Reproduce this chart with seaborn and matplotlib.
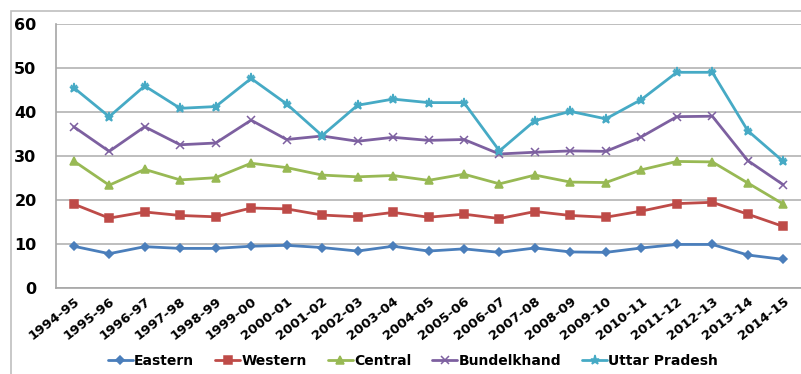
import numpy as np
import pandas as pd
import matplotlib
matplotlib.use("Agg")
import matplotlib.pyplot as plt
import matplotlib.transforms as mtransforms
import seaborn as sns
from matplotlib.patches import Rectangle
from matplotlib.ticker import FixedLocator

# Data
years = ["1994-95", "1995-96", "1996-97", "1997-98", "1998-99", "1999-00", "2000-01",
         "2001-02", "2002-03", "2003-04", "2004-05", "2005-06", "2006-07", "2007-08",
         "2008-09", "2009-10", "2010-11", "2011-12", "2012-13", "2013-14", "2014-15"]
eastern = [9.4, 7.7, 9.3, 8.9, 8.9, 9.4, 9.6, 9.1, 8.3, 9.4, 8.3, 8.8, 8.0, 9.0,
           8.1, 8.0, 9.0, 9.8, 9.8, 7.4, 6.4]
western = [19.0, 15.8, 17.2, 16.4, 16.1, 18.1, 17.9, 16.5, 16.1, 17.1, 16.0, 16.7,
           15.7, 17.3, 16.4, 16.0, 17.4, 19.1, 19.4, 16.7, 13.9]
central = [28.8, 23.3, 26.9, 24.5, 25.0, 28.3, 27.3, 25.6, 25.2, 25.5, 24.4, 25.8,
           23.6, 25.6, 24.0, 23.9, 26.8, 28.7, 28.6, 23.8, 19.0]
bundelkhand = [36.6, 31.0, 36.6, 32.5, 32.9, 38.1, 33.7, 34.5, 33.3, 34.2, 33.5, 33.7,
               30.4, 30.8, 31.1, 31.0, 34.3, 38.9, 39.0, 28.9, 23.4]
uttar_pradesh = [45.5, 38.9, 45.9, 40.8, 41.2, 47.6, 41.8, 34.6, 41.5, 42.9, 42.1, 42.1,
                 31.1, 38.0, 40.1, 38.4, 42.8, 49.0, 49.0, 35.7, 28.7]

series = {
    "Eastern": (eastern, "#4A7EBB", "D", 4.5),
    "Western": (western, "#BE4B48", "s", 6),
    "Central": (central, "#98B954", "^", 6),
    "Bundelkhand": (bundelkhand, "#7D60A0", "x", 6),
    "Uttar Pradesh": (uttar_pradesh, "#46AAC5", "*", 6.5),
}

sns.set_style("white")
plt.rcParams["font.family"] = ["DejaVu Sans"]
plt.rcParams["text.color"] = "black"

fig = plt.figure(figsize=(8.01, 3.74), dpi=100)
ax = fig.add_axes([56 / 801, 1 - 287.5 / 374, 1 - 56 / 801, (287.5 - 24) / 374])

# Outer chart border
fig.add_artist(Rectangle((11 / 801, -0.05), 1.2, 1 - 11 / 374 + 0.05,
                         transform=fig.transFigure, fill=False,
                         edgecolor="#BFBFBF", linewidth=1.2))

x = np.arange(len(years))
for name, (vals, col, mk, ms) in series.items():
    sns.lineplot(x=x, y=vals, ax=ax, color=col, marker=mk, markersize=ms,
                 markeredgecolor=col, markeredgewidth=1.1, linewidth=2.0,
                 label=name, legend=False)
    if mk == "*":
        ax.plot(x, vals, linestyle="none", marker="x", markersize=5,
                color=col, markeredgewidth=1.1)

ax.set_xlim(-0.5, len(years) - 0.5)
ax.set_ylim(0, 60)
ax.set_yticks(range(0, 61, 10))
ax.yaxis.grid(True, color="#B3B3B3", linewidth=1.2)
ax.set_xticks(x)
ax.set_xticklabels(years, rotation=38, ha="right", rotation_mode="anchor",
                   fontsize=9.5, fontweight="bold", color="black")
# shift labels slightly right so their ends sit just past the category
offset = mtransforms.ScaledTranslation(5 / 100, 0, fig.dpi_scale_trans)
for lbl in ax.get_xticklabels():
    lbl.set_transform(lbl.get_transform() + offset)
ax.xaxis.set_minor_locator(FixedLocator(np.arange(-0.5, len(years), 1)))
ax.tick_params(axis="x", which="major", length=0, pad=5)
ax.tick_params(axis="x", which="minor", length=5, color="#A6A6A6", width=1)
ax.tick_params(axis="y", length=5, color="#A6A6A6", width=1, labelsize=11.5, pad=9,
               labelcolor="black")
for lbl in ax.get_yticklabels():
    lbl.set_fontweight("bold")
for side in ["top", "right"]:
    ax.spines[side].set_visible(False)
for side in ["left", "bottom"]:
    ax.spines[side].set_color("#A6A6A6")
    ax.spines[side].set_linewidth(1.2)

handles, labels = ax.get_legend_handles_labels()
fig.legend(handles[:5], labels[:5], loc="center", bbox_to_anchor=(413 / 801, 1 - 361 / 374),
           ncol=5, frameon=False, prop={"weight": "bold", "size": 10},
           handlelength=1.8, columnspacing=1.5, handletextpad=0.1)

fig.savefig("out.png", dpi=100)
